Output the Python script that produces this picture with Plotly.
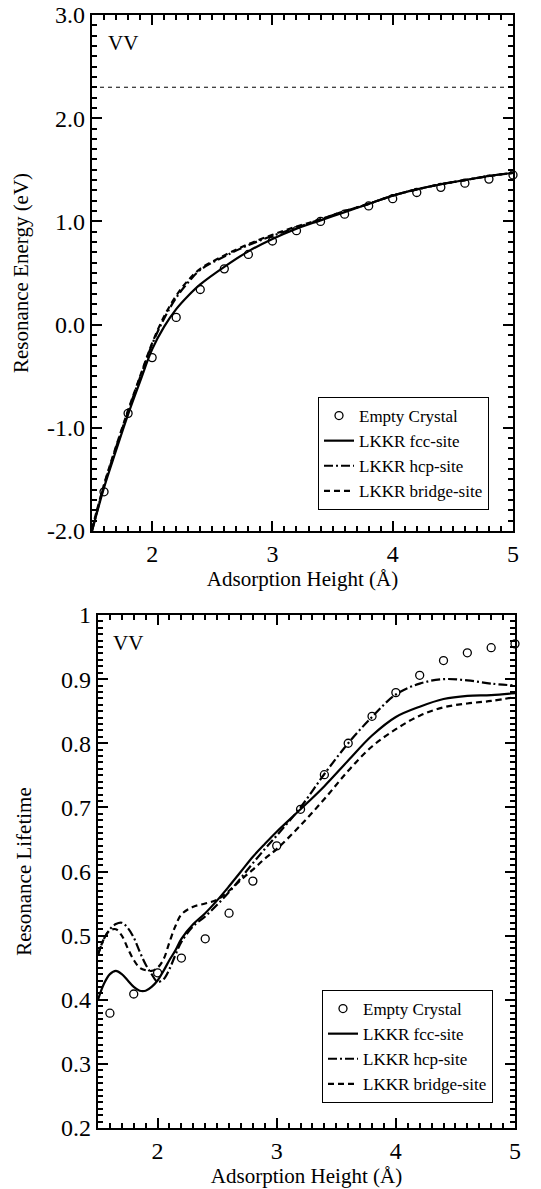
import plotly.graph_objects as go

# ---------------- data: top panel (Resonance Energy) ----------------
x_top_lines = [1.5, 1.6, 1.7, 1.8, 1.9, 2.0, 2.1, 2.2, 2.3, 2.4, 2.6, 2.8, 3.0, 3.2,
               3.4, 3.6, 3.8, 4.0, 4.2, 4.4, 4.6, 4.8, 5.0]
fcc_top = [-2.0, -1.58, -1.22, -0.87, -0.55, -0.24, -0.02, 0.15, 0.28, 0.39, 0.56, 0.71,
           0.83, 0.93, 1.01, 1.09, 1.17, 1.25, 1.31, 1.36, 1.40, 1.44, 1.47]
hcp_top = [-2.0, -1.56, -1.19, -0.84, -0.51, -0.19, 0.06, 0.26, 0.41, 0.53, 0.66, 0.77,
           0.86, 0.94, 1.02, 1.10, 1.17, 1.25, 1.31, 1.36, 1.40, 1.44, 1.47]
bridge_top = [-1.98, -1.55, -1.18, -0.83, -0.50, -0.18, 0.08, 0.28, 0.43, 0.54, 0.67, 0.78,
              0.87, 0.95, 1.02, 1.10, 1.17, 1.25, 1.31, 1.36, 1.40, 1.44, 1.47]
x_circles = [1.6, 1.8, 2.0, 2.2, 2.4, 2.6, 2.8, 3.0, 3.2, 3.4, 3.6, 3.8, 4.0, 4.2,
             4.4, 4.6, 4.8, 5.0]
empty_top = [-1.62, -0.86, -0.32, 0.07, 0.34, 0.54, 0.68, 0.81, 0.91, 1.0, 1.07, 1.15,
             1.22, 1.28, 1.33, 1.37, 1.41, 1.45]
ref_level_x = [1.5, 5.0]
ref_level_y = [2.3, 2.3]

# ---------------- data: bottom panel (Resonance Lifetime) ----------------
x_bot_lines = [1.5, 1.55, 1.6, 1.65, 1.7, 1.75, 1.8, 1.85, 1.9, 1.95, 2.0, 2.05, 2.1,
               2.15, 2.2, 2.3, 2.4, 2.5, 2.6, 2.7, 2.8, 2.9, 3.0, 3.2, 3.4, 3.6, 3.8,
               4.0, 4.2, 4.4, 4.6, 4.8, 5.0]
fcc_bot = [0.40, 0.425, 0.44, 0.445, 0.44, 0.43, 0.42, 0.414, 0.414, 0.42, 0.43, 0.445,
           0.462, 0.477, 0.495, 0.518, 0.535, 0.555, 0.577, 0.60, 0.623, 0.643, 0.662,
           0.697, 0.733, 0.773, 0.812, 0.841, 0.857, 0.869, 0.874, 0.875, 0.878]
hcp_bot = [0.47, 0.495, 0.51, 0.518, 0.52, 0.512, 0.497, 0.475, 0.455, 0.44, 0.428,
           0.432, 0.448, 0.47, 0.49, 0.515, 0.53, 0.548, 0.568, 0.59, 0.613, 0.635,
           0.656, 0.70, 0.752, 0.80, 0.841, 0.876, 0.893, 0.90, 0.898, 0.893, 0.89]
bridge_bot = [0.47, 0.495, 0.508, 0.51, 0.50, 0.48, 0.462, 0.45, 0.446, 0.445, 0.45,
              0.463, 0.49, 0.515, 0.533, 0.545, 0.55, 0.556, 0.57, 0.587, 0.603, 0.62,
              0.635, 0.672, 0.713, 0.757, 0.795, 0.822, 0.843, 0.856, 0.862, 0.866, 0.872]
empty_bot = [0.379, 0.409, 0.442, 0.465, 0.495, 0.535, 0.585, 0.64, 0.697, 0.751, 0.80,
             0.842, 0.879, 0.906, 0.929, 0.941, 0.949, 0.955]

# ---------------- tick labels ----------------
x_tickvals = [2, 3, 4, 5]
x_ticktext = ["2", "3", "4", "5"]
top_y_tickvals = [-2, -1, 0, 1, 2, 3]
top_y_ticktext = ["-2.0", "-1.0", "0.0", "1.0", "2.0", "3.0"]
bot_y_tickvals = [0.2, 0.3, 0.4, 0.5, 0.6, 0.7, 0.8, 0.9, 1.0]
bot_y_ticktext = ["0.2", "0.3", "0.4", "0.5", "0.6", "0.7", "0.8", "0.9", "1"]

# minor tick positions (every 0.1 on x and top y, every 0.01 on bottom y)
x_minor = [round(1.5 + 0.1 * i, 2) for i in range(36)]
top_y_minor = [round(-2.0 + 0.1 * i, 2) for i in range(51)]
bot_y_minor = [round(0.2 + 0.01 * i, 3) for i in range(81)]

FONT = "Liberation Serif, Times New Roman, Times, serif"
W, H = 541, 1189

fig = go.Figure()

names = ["Empty Crystal", "LKKR fcc-site", "LKKR hcp-site", "LKKR bridge-site"]
DASH_HCP = "9px,3px,2px,3px"
DASH_BR = "6px,4px"

# top
fig.add_trace(go.Scatter(x=ref_level_x, y=ref_level_y, mode="lines",
                         line=dict(color="black", width=1, dash="4px,4px"),
                         showlegend=False, xaxis="x", yaxis="y", hoverinfo="skip"))
fig.add_trace(go.Scatter(x=x_circles, y=empty_top, mode="markers", name=names[0],
                         marker=dict(symbol="circle-open", size=8, color="black",
                                     line=dict(width=1.3)),
                         cliponaxis=False,
                         xaxis="x", yaxis="y", legend="legend"))
fig.add_trace(go.Scatter(x=x_top_lines, y=fcc_top, mode="lines", name=names[1],
                         line=dict(color="black", width=2.2, shape="spline"),
                         xaxis="x", yaxis="y", legend="legend"))
fig.add_trace(go.Scatter(x=x_top_lines, y=hcp_top, mode="lines", name=names[2],
                         line=dict(color="black", width=2.2, dash=DASH_HCP, shape="spline"),
                         xaxis="x", yaxis="y", legend="legend"))
fig.add_trace(go.Scatter(x=x_top_lines, y=bridge_top, mode="lines", name=names[3],
                         line=dict(color="black", width=2.2, dash=DASH_BR, shape="spline"),
                         xaxis="x", yaxis="y", legend="legend"))

# bottom
fig.add_trace(go.Scatter(x=x_circles, y=empty_bot, mode="markers", name=names[0],
                         marker=dict(symbol="circle-open", size=8, color="black",
                                     line=dict(width=1.3)),
                         cliponaxis=False,
                         xaxis="x2", yaxis="y2", legend="legend2"))
fig.add_trace(go.Scatter(x=x_bot_lines, y=fcc_bot, mode="lines", name=names[1],
                         line=dict(color="black", width=2.2, shape="spline"),
                         xaxis="x2", yaxis="y2", legend="legend2"))
fig.add_trace(go.Scatter(x=x_bot_lines, y=hcp_bot, mode="lines", name=names[2],
                         line=dict(color="black", width=2.2, dash=DASH_HCP, shape="spline"),
                         xaxis="x2", yaxis="y2", legend="legend2"))
fig.add_trace(go.Scatter(x=x_bot_lines, y=bridge_bot, mode="lines", name=names[3],
                         line=dict(color="black", width=2.2, dash=DASH_BR, shape="spline"),
                         xaxis="x2", yaxis="y2", legend="legend2"))


def px_x(p):
    return p / W


def px_y(p):
    return 1 - p / H


TOP_X = [px_x(92), px_x(513)]
TOP_Y = [px_y(531), px_y(15)]
BOT_X = [px_x(98), px_x(515)]
BOT_Y = [px_y(1128), px_y(615)]

common_axis = dict(showline=True, linecolor="black", linewidth=2.2, mirror="ticks",
                   ticks="inside", ticklen=10, tickwidth=2, tickcolor="black",
                   showgrid=False, zeroline=False, tickmode="array", automargin=False,
                   layer="above traces",
                   tickfont=dict(family=FONT, size=24, color="black"))


def minor_spec(vals):
    return dict(tickmode="array", tickvals=vals, ticks="inside", ticklen=5,
                tickwidth=1.6, tickcolor="black", showgrid=False)


title_font = dict(family=FONT, size=21, color="black")
legend_common = dict(xanchor="right", yanchor="bottom", bgcolor="white",
                     bordercolor="black", borderwidth=1, tracegroupgap=0,
                     font=dict(family=FONT, size=17, color="black"))

fig.update_layout(
    width=W, height=H,
    margin=dict(l=0, r=0, t=0, b=0, autoexpand=False),
    paper_bgcolor="white", plot_bgcolor="white",
    font=dict(family=FONT, color="black"),
    xaxis=dict(common_axis, domain=TOP_X, range=[1.5, 5.0],
               tickvals=x_tickvals, ticktext=x_ticktext, anchor="y",
               minor=minor_spec(x_minor),
               title=dict(text="Adsorption Height (Å)", font=title_font, standoff=4)),
    yaxis=dict(common_axis, domain=TOP_Y, range=[-2.0, 3.0],
               tickvals=top_y_tickvals, ticktext=top_y_ticktext, anchor="x",
               minor=minor_spec(top_y_minor),
               title=dict(text="Resonance Energy (eV)", font=title_font, standoff=13)),
    xaxis2=dict(common_axis, domain=BOT_X, range=[1.5, 5.0],
                tickvals=x_tickvals, ticktext=x_ticktext, anchor="y2",
                minor=minor_spec(x_minor),
                title=dict(text="Adsorption Height (Å)", font=title_font, standoff=4)),
    yaxis2=dict(common_axis, domain=BOT_Y, range=[0.2, 1.0],
                tickvals=bot_y_tickvals, ticktext=bot_y_ticktext, anchor="x2",
                minor=minor_spec(bot_y_minor),
                title=dict(text="Resonance Lifetime", font=title_font, standoff=24)),
    legend=dict(legend_common, x=px_x(489), y=px_y(510)),
    legend2=dict(legend_common, x=px_x(493), y=px_y(1103)),
    showlegend=True,
)

fig.add_annotation(text="VV", x=0.033, y=0.946, xref="x domain", yref="y domain",
                   xanchor="left", yanchor="middle", showarrow=False,
                   font=dict(family=FONT, size=21, color="black"))
fig.add_annotation(text="VV", x=0.031, y=0.945, xref="x2 domain", yref="y2 domain",
                   xanchor="left", yanchor="middle", showarrow=False,
                   font=dict(family=FONT, size=21, color="black"))

fig.write_html("out.html")
